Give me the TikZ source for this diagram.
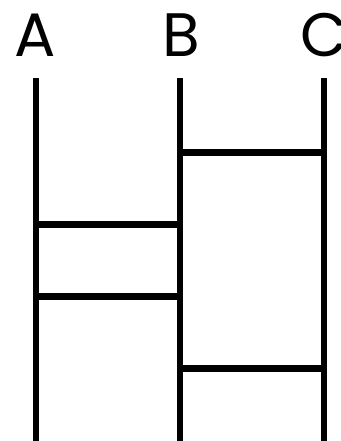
\documentclass[tikz,border=0pt]{standalone}
\usepackage{fontspec}
\setmainfont{Poppins}
\begin{document}
\begin{tikzpicture}[x=0.75pt,y=-0.75pt,
  rail/.style={line width=4.7pt,black},
  rung/.style={line width=5.3pt,black},
  lbl/.style={anchor=base,inner sep=0pt,font=\fontsize{46}{46}\selectfont}]
\useasboundingbox (0,0) rectangle (341,441);
\node[lbl] (la) at (35.5,56.7) {A};
\node[lbl] (lb) at (181,56.7) {B};
\node[lbl] (lc) at (324,56.7) {C};
\coordinate (at) at (36.3,78.5); \coordinate (ab) at (36.3,441);
\coordinate (bt) at (179.7,78.5); \coordinate (bb) at (179.7,441);
\coordinate (ct) at (323.7,78.5); \coordinate (cb) at (323.7,441);
\draw[rail] (at) -- (ab);
\draw[rail] (bt) -- (bb);
\draw[rail] (ct) -- (cb);
\coordinate (b1) at (179.7,152.2); \coordinate (c1) at (323.7,152.2);
\coordinate (a2) at (36.3,224.5); \coordinate (b2) at (179.7,224.5);
\coordinate (a3) at (36.3,296.3); \coordinate (b3) at (179.7,296.3);
\coordinate (b4) at (179.7,368.5); \coordinate (c4) at (323.7,368.5);
\draw[rung] (b1) -- (c1);
\draw[rung] (a2) -- (b2);
\draw[rung] (a3) -- (b3);
\draw[rung] (b4) -- (c4);
\end{tikzpicture}
\end{document}
